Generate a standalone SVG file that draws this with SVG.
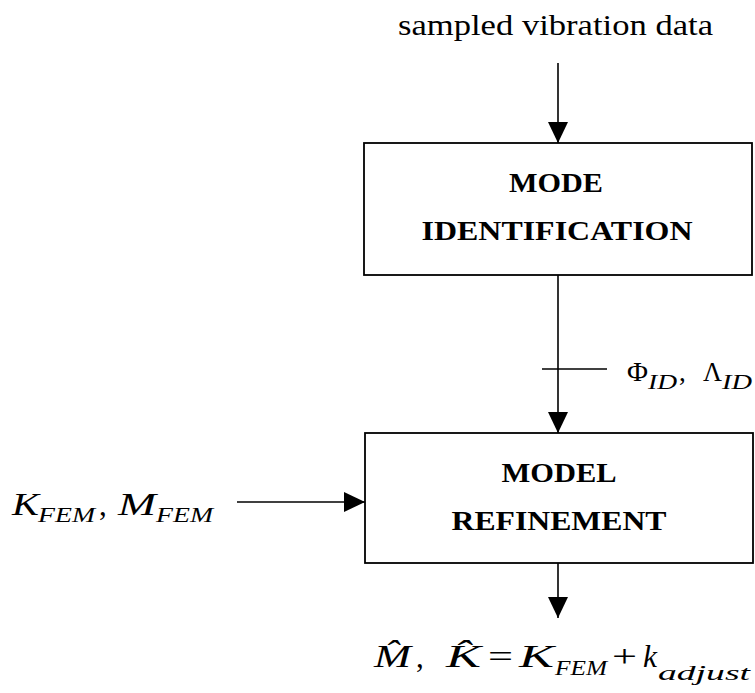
<svg xmlns="http://www.w3.org/2000/svg" width="755" height="693" viewBox="0 0 755 693">
  <style>
    .box { fill: #ffffff; stroke: #000; stroke-width: 1.8; }
    .conn { stroke: #000; stroke-width: 1.6; fill: none; }
    text { font-family: "Liberation Serif", "Times New Roman", "DejaVu Serif", serif; fill: #000; }
    .bf { font-weight: bold; font-size: 28px; text-anchor: middle; }
    .it { font-style: italic; font-size: 31px; }
    .sub { font-style: italic; font-size: 22px; }
    .up { font-style: normal; font-size: 31px; }
  </style>
  <defs>
    <marker id="ah" markerUnits="userSpaceOnUse" markerWidth="22" markerHeight="22" refX="21" refY="10" orient="auto">
      <path d="M0,0 L21,10 L0,20 Z" fill="#000"/>
    </marker>
  </defs>
  <rect width="755" height="693" fill="#ffffff"/>

  <g id="input-label">
    <text x="398" y="35" font-size="30" textLength="315" lengthAdjust="spacingAndGlyphs">sampled vibration data</text>
  </g>

  <g id="mode-identification">
    <rect class="box" x="364" y="143" width="388" height="132"/>
    <text class="bf" x="556" y="192" textLength="94" lengthAdjust="spacingAndGlyphs">MODE</text>
    <text class="bf" x="557" y="240" textLength="271" lengthAdjust="spacingAndGlyphs">IDENTIFICATION</text>
  </g>

  <g id="model-refinement">
    <rect class="box" x="365" y="433" width="388" height="130"/>
    <text class="bf" x="559" y="482" textLength="115" lengthAdjust="spacingAndGlyphs">MODEL</text>
    <text class="bf" x="559" y="530" textLength="215" lengthAdjust="spacingAndGlyphs">REFINEMENT</text>
  </g>

  <g id="fem-label">
    <text class="it" x="12" y="515"><tspan x="12" y="515" textLength="27" lengthAdjust="spacingAndGlyphs">K</tspan><tspan class="sub" x="38" y="522" textLength="57" lengthAdjust="spacingAndGlyphs">FEM</tspan><tspan class="up" x="99" y="515">,</tspan><tspan x="118" y="515" textLength="38" lengthAdjust="spacingAndGlyphs">M</tspan><tspan class="sub" x="156" y="522" textLength="57" lengthAdjust="spacingAndGlyphs">FEM</tspan></text>
  </g>

  <g id="id-label">
    <text font-size="27"><tspan x="627" y="381" textLength="21" lengthAdjust="spacingAndGlyphs">Φ</tspan><tspan class="sub" font-size="20" x="648" y="389" textLength="29" lengthAdjust="spacingAndGlyphs">ID</tspan><tspan x="679" y="381">,</tspan><tspan x="703" y="381" textLength="19" lengthAdjust="spacingAndGlyphs">Λ</tspan><tspan class="sub" font-size="20" x="722" y="389" textLength="30" lengthAdjust="spacingAndGlyphs">ID</tspan></text>
  </g>

  <g id="output-label">
    <text class="it"><tspan x="374" y="667" textLength="37" lengthAdjust="spacingAndGlyphs">M̂</tspan><tspan class="up" x="416" y="667">,</tspan><tspan x="446" y="667" textLength="35" lengthAdjust="spacingAndGlyphs">K̂</tspan><tspan class="up" x="488" y="667" textLength="25" lengthAdjust="spacingAndGlyphs">=</tspan><tspan x="519" y="667" textLength="35" lengthAdjust="spacingAndGlyphs">K</tspan><tspan class="sub" x="555" y="675" textLength="52" lengthAdjust="spacingAndGlyphs">FEM</tspan><tspan class="up" x="612" y="667" textLength="25" lengthAdjust="spacingAndGlyphs">+</tspan><tspan x="643" y="667" textLength="14" lengthAdjust="spacingAndGlyphs">k</tspan><tspan class="sub" x="658" y="680" textLength="92" lengthAdjust="spacingAndGlyphs">adjust</tspan></text>
  </g>

  <g id="connectors">
    <line class="conn" x1="558" y1="63" x2="558" y2="143" marker-end="url(#ah)"/>
    <line class="conn" x1="558" y1="275" x2="558" y2="433" marker-end="url(#ah)"/>
    <line class="conn" x1="542" y1="369" x2="607" y2="369"/>
    <line class="conn" x1="237" y1="502" x2="365" y2="502" marker-end="url(#ah)"/>
    <line class="conn" x1="558" y1="563" x2="558" y2="618" marker-end="url(#ah)"/>
  </g>
</svg>
